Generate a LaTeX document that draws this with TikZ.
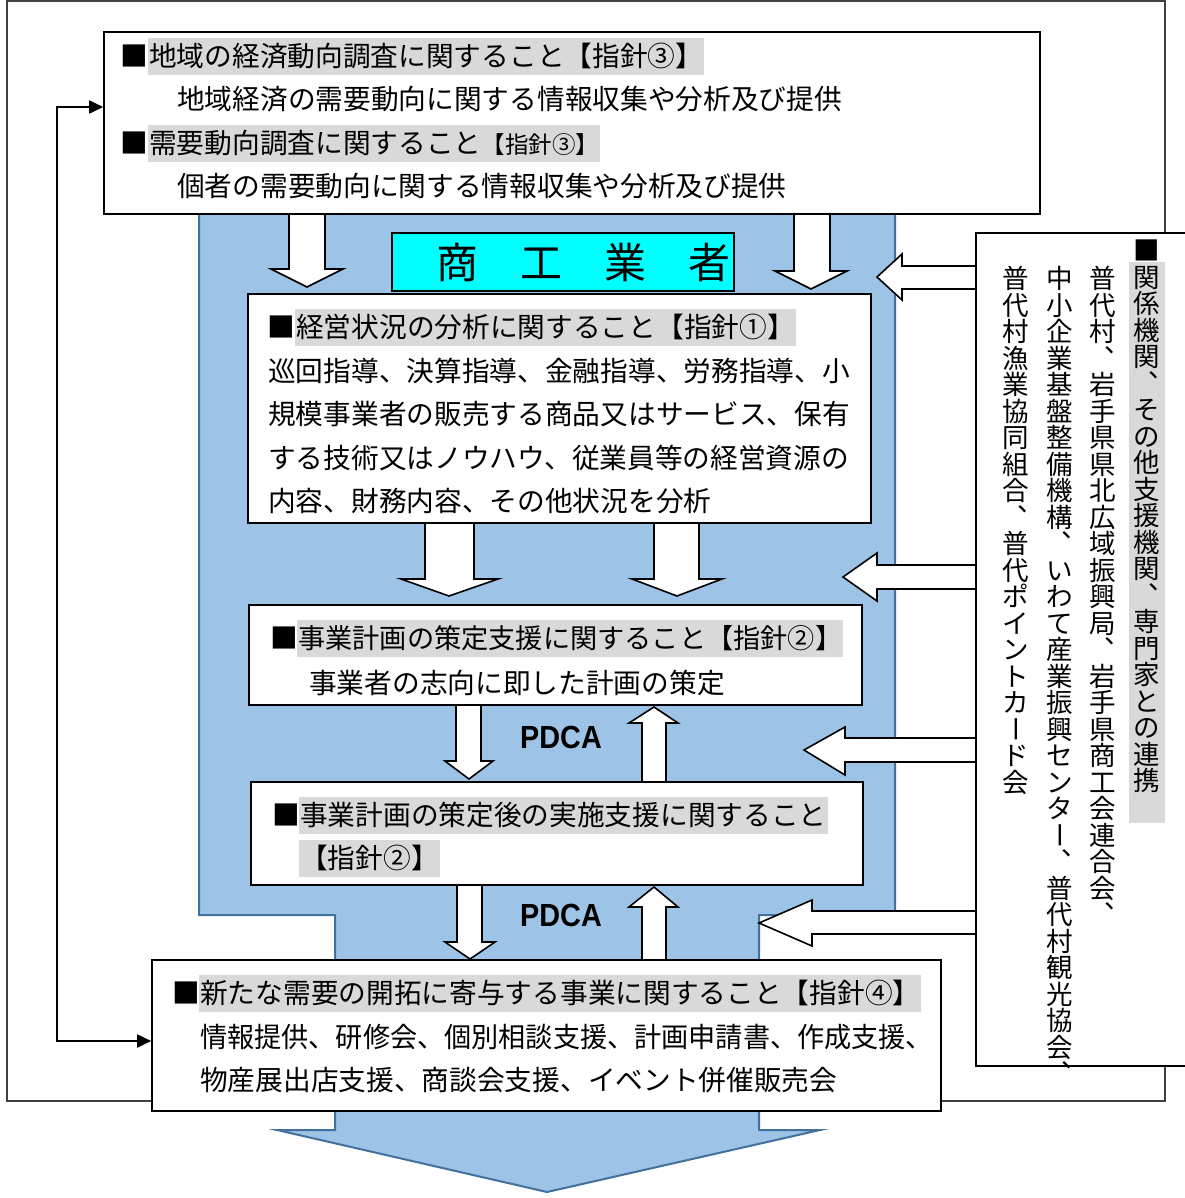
\documentclass[tikz,border=0pt]{standalone}
\usepackage{fontspec}
\usepackage{graphicx}
\newfontfamily\jp{Noto Sans CJK JP}
\newfontfamily\pdcaf{Liberation Sans}
\usetikzlibrary{arrows.meta}
\definecolor{hlgray}{HTML}{D9D9D9}
\definecolor{bluefill}{HTML}{9DC3E6}
\definecolor{blueline}{HTML}{41719C}
\definecolor{cyanfill}{HTML}{00FFFF}
\newcommand\fs[1]{\fontsize{#1}{#1}\selectfont}
% vertical (tategaki) stacking of characters
\newcommand\vstack[1]{\vbox{\offinterlineskip\vstackaux#1\relax}}
\def\vstackaux#1{\ifx\relax#1\else\vcell{#1}\expandafter\vstackaux\fi}
\def\vcell#1{\hbox to 1em{\vrule height .88em depth .12em width 0pt%
  \ifx 、#1\kern0.56em\smash{\raise0.6em\hbox to 0pt{、\hss}}\hss
  \else\ifx ー#1\hss\smash{\rotatebox[origin=c]{90}{\vrule height .88em depth .12em width 0pt ー}}\hss
  \else\hss#1\hss\fi\fi}}
\tikzset{
  box/.style={draw=black, line width=1.6pt, fill=white, inner sep=0pt},
  blk/.style={draw=black, line width=1.6pt, fill=white, line join=miter},
  jt/.style={anchor=west, inner sep=0pt, font=\jp\fs{27.7}, text height=24pt, text depth=4pt},
  hl/.style={jt, fill=hlgray, inner xsep=1pt, inner ysep=4.5pt},
  vt/.style={anchor=north, inner sep=0pt, font=\jp\fs{26.5}},
  pd/.style={inner sep=0pt, font=\pdcaf\bfseries\fs{32}, xscale=0.9},
  conn/.style={line width=1.8pt, {Triangle[length=14pt,width=13pt]}-{Triangle[length=14pt,width=13pt]}}
}
\begin{document}
\begin{tikzpicture}[x=1pt,y=-1pt]
\useasboundingbox (0,0) rectangle (1184,1198);
% outer frame
\draw[line width=1.3pt, draw=black!75] (7,1) rectangle (1165,1101);
% big blue arrow
\draw[fill=bluefill, draw=blueline, line width=2pt, line join=miter]
  (199,205) -- (199,915) -- (335,915) -- (335,1130) -- (277,1130) -- (547,1192)
  -- (820,1130) -- (759,1130) -- (759,915) -- (895,915) -- (895,205) -- cycle;
% block arrows (down/up)
\draw[blk] (289,214) -- (325,214) -- (325,269) -- (343,269) -- (307,287) -- (271,269) -- (289,269) -- cycle;
\draw[blk] (794,214) -- (830,214) -- (830,271) -- (847,271) -- (811,289) -- (775,271) -- (794,271) -- cycle;
\draw[blk] (425,523) -- (474,523) -- (474,579) -- (498,579) -- (449,596) -- (401,579) -- (425,579) -- cycle;
\draw[blk] (654,523) -- (699,523) -- (699,579) -- (722,579) -- (677,596) -- (632,579) -- (654,579) -- cycle;
\draw[blk] (456,705) -- (481,705) -- (481,761) -- (493,761) -- (469,779) -- (445,761) -- (456,761) -- cycle;
\draw[blk] (642,782) -- (666,782) -- (666,723) -- (678,723) -- (654,707) -- (629,723) -- (642,723) -- cycle;
\draw[blk] (457,885) -- (482,885) -- (482,942) -- (495,942) -- (470,959) -- (445,942) -- (457,942) -- cycle;
\draw[blk] (642,960) -- (666,960) -- (666,907) -- (678,907) -- (654,887) -- (629,907) -- (642,907) -- cycle;
% block arrows (leftward from right box)
\draw[blk] (980,266) -- (902,266) -- (902,254) -- (877,277) -- (902,300) -- (902,289) -- (980,289) -- cycle;
\draw[blk] (980,565) -- (877,565) -- (877,553) -- (843,577) -- (877,601) -- (877,589) -- (980,589) -- cycle;
\draw[blk] (980,738) -- (845,738) -- (845,727) -- (804,750) -- (845,775) -- (845,762) -- (980,762) -- cycle;
\draw[blk] (980,911) -- (812,911) -- (812,900) -- (759,923) -- (812,946) -- (812,934) -- (980,934) -- cycle;
% boxes
\node[box, minimum width=936pt, minimum height=182pt] (b1) at (572,123) {};
\node[box, minimum width=623pt, minimum height=229pt] (b2) at (559.5,408.5) {};
\node[box, minimum width=613pt, minimum height=100pt] (b3) at (555.5,655) {};
\node[box, minimum width=612pt, minimum height=103pt] (b4) at (557,833.5) {};
\node[box, minimum width=789pt, minimum height=151pt] (b5) at (546.5,1035.5) {};
\node[box, minimum width=224pt, minimum height=833pt] (rb) at (1088,649.5) {};
\node[draw=black, line width=2.2pt, fill=cyanfill, minimum width=342pt, minimum height=58pt, inner sep=0pt] (ck) at (563,262) {};
\node[inner sep=0pt, font=\jp\fs{42}] (ckt) at (583,263) {商　工　業　者};
% box 1 text
\node[jt] (t1a) at (120,57) {■};
\node[hl] (t1b) at (148,57) {地域の経済動向調査に関すること【指針③】};
\node[jt] (t1c) at (177,100) {地域経済の需要動向に関する情報収集や分析及び提供};
\node[jt] (t1d) at (120,144) {■};
\node[hl] (t1e) at (148,144) {需要動向調査に関すること{\fs{23.5}【指針③】}};
\node[jt] (t1f) at (177,187) {個者の需要動向に関する情報収集や分析及び提供};
% box 2 text
\node[jt] (t2a) at (267,327) {■};
\node[hl] (t2b) at (295,327) {経営状況の分析に関すること【指針①】};
\node[jt] (t2c) at (268,371) {巡回指導、決算指導、金融指導、労務指導、小};
\node[jt] (t2d) at (268,414) {規模事業者の販売する商品又はサービス、保有};
\node[jt] (t2e) at (268,458) {する技術又はノウハウ、従業員等の経営資源の};
\node[jt] (t2f) at (268,501) {内容、財務内容、その他状況を分析};
% box 3 text
\node[jt] (t3a) at (270,638) {■};
\node[hl, font=\jp\fs{27.2}] (t3b) at (297,638) {事業計画の策定支援に関すること【指針②】};
\node[jt] (t3c) at (309,683) {事業者の志向に即した計画の策定};
% box 4 text
\node[jt] (t4a) at (272,815) {■};
\node[hl] (t4b) at (299,815) {事業計画の策定後の実施支援に関すること};
\node[hl] (t4c) at (299,858) {【指針②】};
% box 5 text
\node[jt] (t5a) at (172,993) {■};
\node[hl] (t5b) at (199,993) {新たな需要の開拓に寄与する事業に関すること【指針④】};
\node[jt, xscale=0.98] (t5c) at (200,1037) {情報提供、研修会、個別相談支援、計画申請書、作成支援、};
\node[jt] (t5d) at (200,1080) {物産展出店支援、商談会支援、イベント併催販売会};
% PDCA
\node[pd] (p1) at (561,737) {PDCA};
\node[pd] (p2) at (561,915) {PDCA};
% right box vertical text
\fill[hlgray] (1129,262) rectangle (1165,823);
\node[vt] (v1) at (1147,237) {\vstack{■関係機関、その他支援機関、専門家との連携}};
\node[vt] (v2) at (1103,265) {\vstack{普代村、岩手県県北広域振興局、岩手県商工会連合会、}};
\node[vt] (v3) at (1060,265) {\vstack{中小企業基盤整備機構、いわて産業振興センター、普代村観光協会、}};
\node[vt] (v4) at (1016,265) {\vstack{普代村漁業協同組合、普代ポイントカード会}};
% feedback connector
\coordinate (k1) at (57,107);
\coordinate (k2) at (57,1041);
\draw[conn] (k2 -| b5.west) -- (k2) -- (k1) -- (k1 -| b1.west);
\end{tikzpicture}
\end{document}
